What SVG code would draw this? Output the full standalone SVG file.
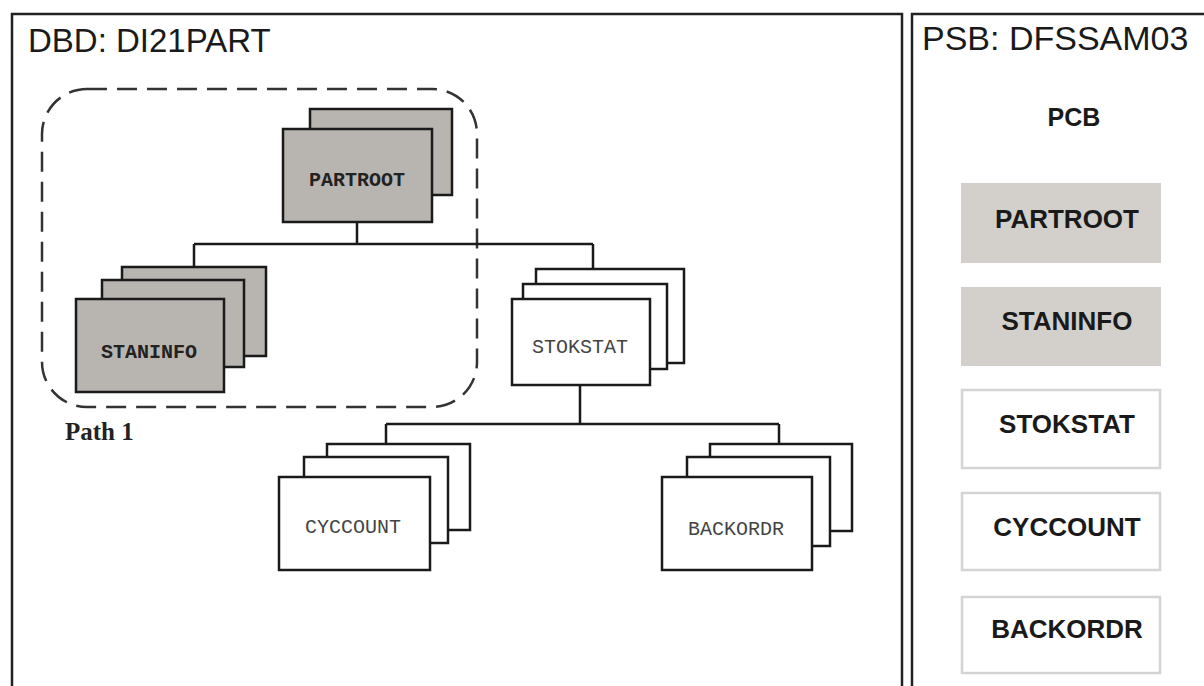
<svg xmlns="http://www.w3.org/2000/svg" width="1204" height="686" viewBox="0 0 1204 686">
<style>
.frame{fill:none;stroke:#222;stroke-width:2.5}
.title{font-family:"Liberation Sans",Arial,sans-serif;font-size:33px;fill:#1a1a1a}
.seg{stroke:#1a1a1a;stroke-width:2.5}
.gray{fill:#b8b4af}
.white{fill:#fff}
.seglbl{font-family:"Liberation Mono","Courier New",monospace;font-size:20px;text-anchor:middle}
.dark{fill:#222;font-weight:bold}
.light{fill:#444}
.conn{fill:none;stroke:#1a1a1a;stroke-width:2.5}
.pcb{stroke:#d4d4d4;stroke-width:2.5}
.pcbfill{fill:#d3d0cb;stroke:none}
.pcbwhite{fill:#fff}
.pcblbl{font-family:"Liberation Sans",Arial,sans-serif;font-weight:bold;font-size:26px;fill:#1a1a1a;text-anchor:middle}
</style>
<rect width="1204" height="686" fill="#fff"/>
<g id="dbd-frame">
<path class="frame" d="M12 686 V14 H902 V686"/>
<text class="title" x="28" y="52">DBD: DI21PART</text>
</g>
<g id="psb-frame">
<path class="frame" d="M912 686 V14 H1206"/>
<text class="title" x="922" y="50" style="font-size:34px">PSB: DFSSAM03</text>
<text class="pcblbl" x="1074" y="126" style="font-size:25px">PCB</text>
</g>
<g id="path1">
<rect x="42" y="89" width="435" height="318" rx="45" fill="none" stroke="#333" stroke-width="2.5" stroke-dasharray="20 10"/>
<text x="65" y="440" style="font-family:'Liberation Serif','Times New Roman',serif;font-weight:bold;font-size:25px;fill:#222">Path 1</text>
</g>
<g id="connectors">
<path class="conn" d="M357 222 V244 M194 244 H593 M194 244 V267 M593 244 V269"/>
<path class="conn" d="M580 385 V424 M386 424 H779 M386 424 V444 M779 424 V444"/>
</g>
<g id="node-partroot">
<rect class="seg gray" x="310" y="109" width="142" height="86"/>
<rect class="seg gray" x="283" y="129" width="149" height="93"/>
<text class="seglbl dark" x="357" y="186">PARTROOT</text>
</g>
<g id="node-staninfo">
<rect class="seg gray" x="122" y="267" width="144" height="89"/>
<rect class="seg gray" x="102" y="280" width="142" height="87"/>
<rect class="seg gray" x="76" y="299" width="148" height="93"/>
<text class="seglbl dark" x="149" y="358">STANINFO</text>
</g>
<g id="node-stokstat">
<rect class="seg white" x="536" y="269" width="148" height="94"/>
<rect class="seg white" x="523" y="284" width="144" height="85"/>
<rect class="seg white" x="512" y="299" width="138" height="86"/>
<text class="seglbl light" x="580" y="353">STOKSTAT</text>
</g>
<g id="node-cyccount">
<rect class="seg white" x="327" y="444" width="143" height="86"/>
<rect class="seg white" x="304" y="457" width="144" height="86"/>
<rect class="seg white" x="279" y="477" width="151" height="93"/>
<text class="seglbl light" x="353" y="533">CYCCOUNT</text>
</g>
<g id="node-backordr">
<rect class="seg white" x="710" y="444" width="142" height="87"/>
<rect class="seg white" x="687" y="457" width="143" height="89"/>
<rect class="seg white" x="662" y="477" width="150" height="93"/>
<text class="seglbl light" x="736" y="535">BACKORDR</text>
</g>
<g id="pcb-partroot">
<rect class="pcbfill" x="961" y="183" width="200" height="80"/>
<text class="pcblbl" x="1067" y="228">PARTROOT</text>
</g>
<g id="pcb-staninfo">
<rect class="pcbfill" x="961" y="287" width="200" height="79"/>
<text class="pcblbl" x="1067" y="330">STANINFO</text>
</g>
<g id="pcb-stokstat">
<rect class="pcb pcbwhite" x="962" y="390" width="198" height="78"/>
<text class="pcblbl" x="1067" y="433">STOKSTAT</text>
</g>
<g id="pcb-cyccount">
<rect class="pcb pcbwhite" x="962" y="493" width="198" height="77"/>
<text class="pcblbl" x="1067" y="536">CYCCOUNT</text>
</g>
<g id="pcb-backordr">
<rect class="pcb pcbwhite" x="962" y="597" width="198" height="76"/>
<text class="pcblbl" x="1067" y="638">BACKORDR</text>
</g>
</svg>
